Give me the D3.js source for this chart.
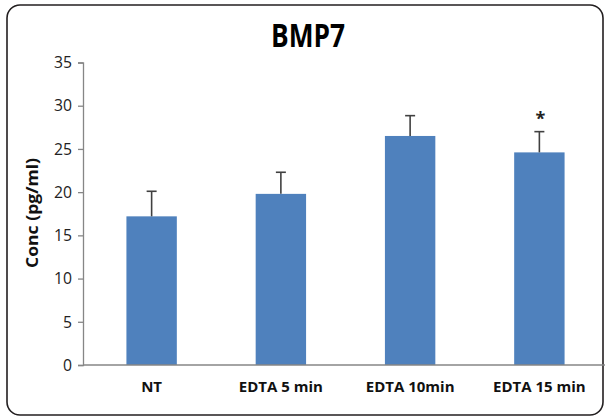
<!DOCTYPE html>
<html>
<head>
<meta charset="utf-8">
<script src="https://cdn.jsdelivr.net/npm/d3@7"></script>
<style>
  html, body { margin: 0; padding: 0; background: #fff; }
  svg { display: block; }
</style>
</head>
<body>
<svg id="chart" width="606" height="418"></svg>
<script>
const categories = ["NT", "EDTA 5 min", "EDTA 10min", "EDTA 15 min"];
const means = [17.2, 19.8, 26.5, 24.6];
const errors = [2.9, 2.5, 2.35, 2.4];
const significance = ["", "", "", "*"];
const yTicks = [0, 5, 10, 15, 20, 25, 30, 35];
const title = "BMP7";
const yLabel = "Conc (pg/ml)";

const svg = d3.select("#chart");
const font = "'Open Sans', 'Liberation Sans', sans-serif";

// frame
svg.append("rect")
  .attr("x", 7).attr("y", 5).attr("width", 596).attr("height", 410)
  .attr("rx", 13).attr("ry", 13)
  .attr("fill", "#fff").attr("stroke", "#231f20").attr("stroke-width", 1.6);

const x = d3.scaleBand().domain(categories).range([87, 604]).paddingInner(0.61).paddingOuter(0.305);
const y = d3.scaleLinear().domain([0, 35]).range([365, 62.5]);

// y axis
const yAxis = svg.append("g").attr("transform", "translate(83,0)")
  .call(d3.axisLeft(y).tickValues(yTicks).tickSize(5).tickPadding(6));
yAxis.select(".domain").attr("stroke", "#868686").attr("stroke-width", 1.3);
yAxis.selectAll(".tick line").attr("stroke", "#868686").attr("stroke-width", 1.3);
yAxis.selectAll(".tick text")
  .attr("font-family", font).attr("font-size", 16.5).attr("fill", "#222")
  .attr("textLength", function() { return this.textContent.length > 1 ? 18 : 9; })
  .attr("lengthAdjust", "spacingAndGlyphs");

// bars
svg.append("g").selectAll("rect").data(categories).join("rect")
  .attr("x", d => x(d))
  .attr("width", x.bandwidth())
  .attr("y", (d, i) => y(means[i]))
  .attr("height", (d, i) => y(0) - y(means[i]))
  .attr("fill", "#4f81bd");

// x axis line
svg.append("line")
  .attr("x1", 83).attr("x2", 605).attr("y1", y(0)).attr("y2", y(0))
  .attr("stroke", "#868686").attr("stroke-width", 1.3);

// error bars
const eb = svg.append("g").attr("stroke", "#404040").attr("stroke-width", 1.6);
categories.forEach((c, i) => {
  const cx = x(c) + x.bandwidth() / 2;
  eb.append("line").attr("x1", cx).attr("x2", cx)
    .attr("y1", y(means[i])).attr("y2", y(means[i] + errors[i]));
  eb.append("line").attr("x1", cx - 5).attr("x2", cx + 5)
    .attr("y1", y(means[i] + errors[i])).attr("y2", y(means[i] + errors[i]));
});

// significance markers
svg.append("g").selectAll("text").data(categories).join("text")
  .attr("x", d => x(d) + x.bandwidth() / 2 + 1)
  .attr("y", (d, i) => y(means[i] + errors[i]) - 7)
  .attr("text-anchor", "middle")
  .attr("font-family", font).attr("font-weight", "bold").attr("font-size", 18)
  .attr("fill", "#222")
  .text((d, i) => significance[i]);

// x labels
svg.append("g").selectAll("text").data(categories).join("text")
  .attr("x", d => x(d) + x.bandwidth() / 2)
  .attr("y", 392)
  .attr("text-anchor", "middle")
  .attr("font-family", font).attr("font-weight", "bold").attr("font-size", 15)
  .attr("fill", "#111")
  .text(d => d);

// title
svg.append("text")
  .attr("x", 308).attr("y", 47)
  .attr("text-anchor", "middle")
  .attr("font-family", font).attr("font-weight", "bold").attr("font-size", 33)
  .attr("textLength", 74).attr("lengthAdjust", "spacingAndGlyphs")
  .attr("fill", "#000")
  .text(title);

// y label
svg.append("text")
  .attr("transform", "translate(38,213) rotate(-90)")
  .attr("text-anchor", "middle")
  .attr("font-family", font).attr("font-weight", "bold").attr("font-size", 16)
  .attr("textLength", 110).attr("lengthAdjust", "spacingAndGlyphs")
  .attr("fill", "#111")
  .text(yLabel);
</script>
</body>
</html>
